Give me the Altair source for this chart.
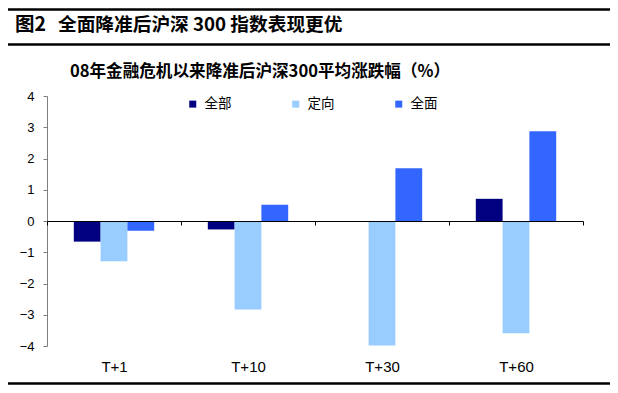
import altair as alt
import pandas as pd

periods = ["T+1", "T+10", "T+30", "T+60"]
series = ["全部", "定向", "全面"]
v_all = [-0.66, -0.27, 0.0, 0.71]
v_targeted = [-1.29, -2.83, -3.98, -3.59]
v_full = [-0.31, 0.52, 1.69, 2.87]
colors = ["#000080", "#99CCFF", "#3366FF"]

header_fig = "图2"
header_text = "全面降准后沪深 300 指数表现更优"
chart_title = "08年金融危机以来降准后沪深300平均涨跌幅（%）"

rows = []
for s, vals in zip(series, [v_all, v_targeted, v_full]):
    for p, v in zip(periods, vals):
        rows.append({"period": p, "series": s, "value": v})
df = pd.DataFrame(rows)

W, H = 536, 250
CJK = "Noto Sans CJK SC"
LAT = "Liberation Sans"

bars = alt.Chart(df).mark_bar().encode(
    x=alt.X("period:N", sort=periods,
            scale=alt.Scale(paddingInner=0, paddingOuter=0),
            axis=alt.Axis(title=None, orient="bottom", offset=-125,
                          domainColor="#000000", domainWidth=1,
                          tickColor="#000000", tickSize=4, tickBand="extent",
                          labelPadding=134, labelFont=LAT, labelFontSize=15,
                          labelColor="#000000", labelAngle=0, zindex=1)),
    xOffset=alt.XOffset("series:N", sort=series,
                        scale=alt.Scale(paddingInner=0, paddingOuter=1)),
    y=alt.Y("value:Q", scale=alt.Scale(domain=[-4, 4], nice=False),
            axis=alt.Axis(title=None, values=[-4, -3, -2, -1, 0, 1, 2, 3, 4],
                          grid=False, domainColor="#7f7f7f", domainWidth=1,
                          tickColor="#7f7f7f", tickSize=4, labelPadding=9,
                          labelFont=LAT, labelFontSize=13, labelColor="#000000",
                          format="d")),
    color=alt.Color("series:N", sort=series,
                    scale=alt.Scale(domain=series, range=colors),
                    legend=alt.Legend(title=None, orient="none", direction="horizontal",
                                      legendX=139, legendY=1, symbolType="square",
                                      symbolSize=49, symbolStrokeWidth=0,
                                      labelFont=CJK, labelFontSize=13.5,
                                      labelColor="#000000", labelOffset=5,
                                      columnPadding=57)),
)

one = pd.DataFrame({"a": [1]})

def text_layer(t, x, y, size, weight="bold", align="left", font=CJK):
    return alt.Chart(pd.DataFrame({"t": [t]})).mark_text(
        font=font, fontSize=size, fontWeight=weight, align=align,
        baseline="middle", color="#000000"
    ).encode(x=alt.value(x), y=alt.value(y), text="t:N")

def hline(y, w):
    return alt.Chart(one).mark_rule(color="#000000", strokeWidth=w).encode(
        x=alt.value(-39), x2=alt.value(563), y=alt.value(y))

chart = alt.layer(
    bars,
    text_layer(header_fig, -32, -71, 19.5),
    text_layer(header_text, 11, -71, 18.7),
    text_layer(chart_title, 213, -24, 16.6, align="center"),
    hline(-86.5, 2.5),
    hline(-51.5, 2.5),
    hline(287.5, 2.5),
).properties(
    width=W, height=H,
    autosize=alt.AutoSizeParams(type="none"),
    padding={"left": 39, "top": 88, "right": 27, "bottom": 39},
).configure_view(stroke=None)

chart.save("out.html", embed_options={"renderer": "svg", "actions": False})
